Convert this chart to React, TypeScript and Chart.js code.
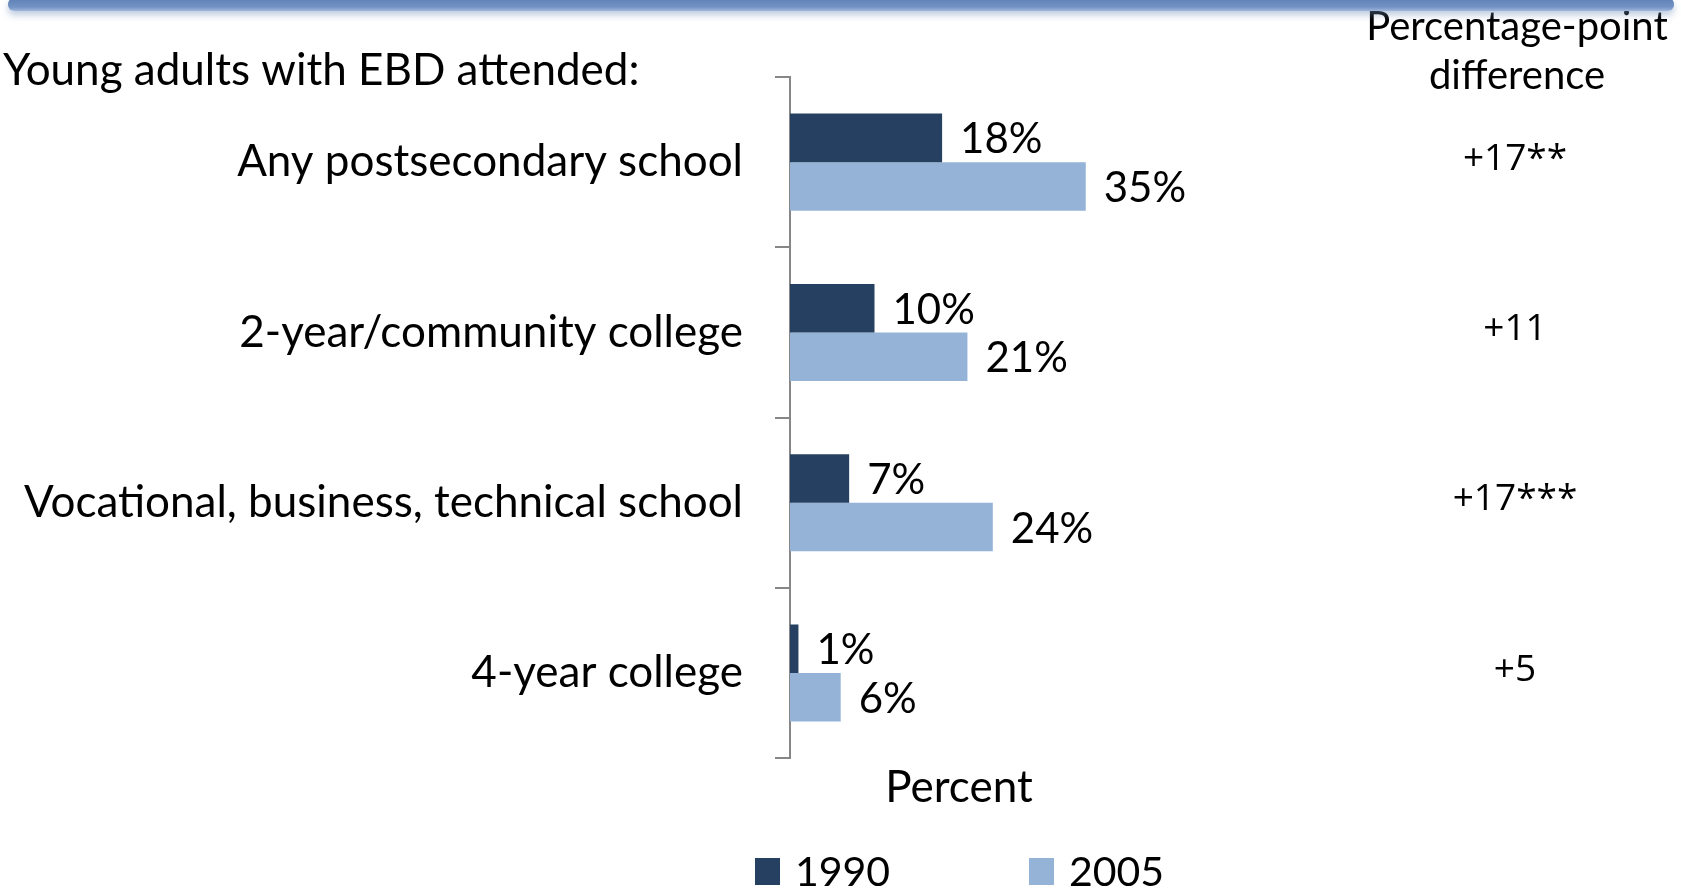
import React, { useEffect, useRef } from "react";
import { Chart, registerables } from "chart.js";

Chart.register(...registerables);

const categories = [
  "Any postsecondary school",
  "2-year/community college",
  "Vocational, business, technical school",
  "4-year college",
];
const seriesLabels = ["1990", "2005"];
const values1990 = [18, 10, 7, 1];
const values2005 = [35, 21, 24, 6];
const diffLabels = ["+17**", "+11", "+17***", "+5"];
const chartTitle = "Young adults with EBD attended:";
const diffHeader = ["Percentage-point", "difference"];
const xAxisTitle = "Percent";
const xMin = 0;
const xMax = 40;

const FONT = "Lato, 'Open Sans', sans-serif";
const DIFF_FONT = "'Open Sans', Lato, sans-serif";
const COLOR_1990 = "#264061";
const COLOR_2005 = "#95b3d7";
const AXIS_GREY = "#878787";

const annotPlugin = {
  id: "annot",
  afterDatasetsDraw(chart: any) {
    const { ctx, chartArea } = chart;
    ctx.save();
    ctx.fillStyle = "#000";
    ctx.textBaseline = "middle";

    // data labels
    ctx.font = `42px ${FONT}`;
    ctx.textAlign = "left";
    chart.data.datasets.forEach((ds: any, di: number) => {
      const meta = chart.getDatasetMeta(di);
      meta.data.forEach((bar: any, i: number) => {
        ctx.fillText(`${ds.data[i]}%`, bar.x + 18, bar.y + 2);
      });
    });

    // difference column
    const yScale = chart.scales.y;
    const diffX = chartArea.right + 387;
    ctx.textAlign = "center";
    ctx.font = `37px ${DIFF_FONT}`;
    diffLabels.forEach((t, i) => {
      ctx.fillText(t, diffX, yScale.getPixelForValue(i) - 3);
    });

    // difference header
    ctx.font = `40px ${FONT}`;
    ctx.fillText(diffHeader[0], diffX + 2, 27);
    ctx.fillText(diffHeader[1], diffX + 2, 76);

    // title
    ctx.textAlign = "left";
    ctx.font = `44px ${FONT}`;
    ctx.fillText(chartTitle, 3, 71);

    // legend
    const cx = (chartArea.left + chartArea.right) / 2;
    const legendY = 871;
    const items = [
      { x: cx - 204, label: chart.data.datasets[0].label, color: chart.data.datasets[0].backgroundColor },
      { x: cx + 70, label: chart.data.datasets[1].label, color: chart.data.datasets[1].backgroundColor },
    ];
    ctx.font = `41px ${FONT}`;
    items.forEach((it) => {
      ctx.fillStyle = it.color;
      ctx.fillRect(it.x, legendY - 13, 25, 27);
      ctx.fillStyle = "#000";
      ctx.textAlign = "left";
      ctx.fillText(it.label, it.x + 40, legendY + 2);
    });
    ctx.restore();
  },
};

export default function App() {
  const ref = useRef<HTMLCanvasElement>(null);
  useEffect(() => {
    document.body.style.margin = "0";
    const chart = new Chart(ref.current as HTMLCanvasElement, {
      type: "bar",
      data: {
        labels: categories,
        datasets: [
          {
            label: seriesLabels[0],
            data: values1990,
            backgroundColor: COLOR_1990,
            categoryPercentage: 0.57,
            barPercentage: 1.0,
          },
          {
            label: seriesLabels[1],
            data: values2005,
            backgroundColor: COLOR_2005,
            categoryPercentage: 0.57,
            barPercentage: 1.0,
          },
        ],
      },
      options: {
        indexAxis: "y",
        responsive: false,
        animation: false,
        layout: { padding: { top: 77, right: 553, bottom: 75, left: 0 } },
        plugins: {
          legend: { display: false },
          title: { display: false },
          tooltip: { enabled: false },
        },
        scales: {
          x: {
            min: xMin,
            max: xMax,
            ticks: { display: false },
            grid: { display: false },
            border: { display: false },
            title: {
              display: true,
              text: xAxisTitle,
              color: "#000",
              font: { family: FONT, size: 44 },
              padding: { top: -5, bottom: 5 },
            },
          },
          y: {
            ticks: {
              color: "#000",
              font: { family: FONT, size: 44 },
              padding: 32,
            },
            grid: {
              drawOnChartArea: false,
              drawTicks: true,
              tickLength: 15,
              color: AXIS_GREY,
              lineWidth: 2,
            },
            border: { display: true, color: AXIS_GREY, width: 2 },
            afterFit: (scale: any) => {
              scale.width = 790;
            },
          },
        },
      },
      plugins: [annotPlugin],
    });
    return () => chart.destroy();
  }, []);

  return (
    <div style={{ position: "relative", width: 1681, height: 894, overflow: "hidden", background: "#fff" }}>
      <div
        style={{
          position: "absolute",
          left: 8,
          top: -2,
          width: 1666,
          height: 13,
          borderRadius: 6,
          background: "linear-gradient(#5c7fb5, #7393c4 70%, #9fb7dc)",
          boxShadow: "0 4px 7px rgba(110,140,185,0.45)",
        }}
      />
      <canvas ref={ref} width={1681} height={894} style={{ display: "block" }} />
    </div>
  );
}
